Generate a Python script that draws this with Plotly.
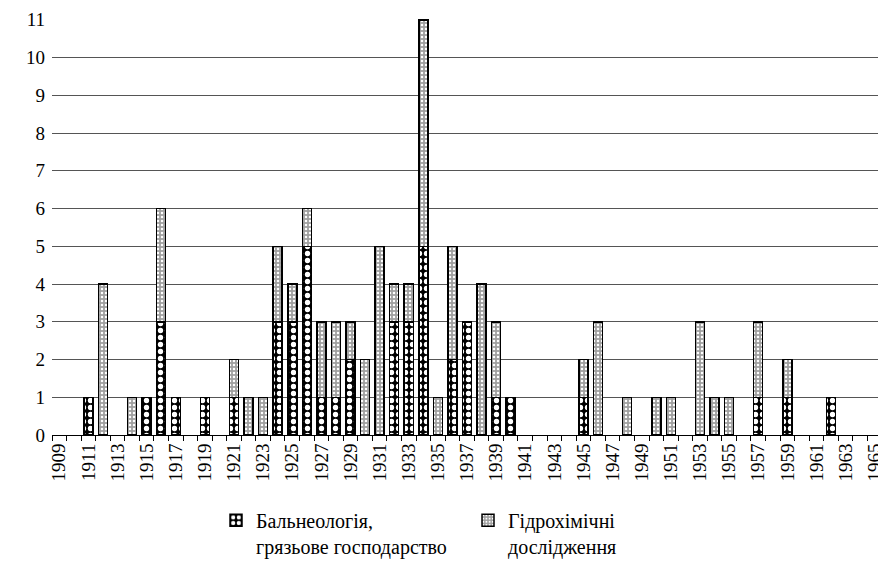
import plotly.graph_objects as go

# роки, у яких є публікації
years = [1911, 1912, 1914, 1915, 1916, 1917, 1919, 1921, 1922, 1923,
         1924, 1925, 1926, 1927, 1928, 1929, 1930, 1931, 1932, 1933,
         1934, 1935, 1936, 1937, 1938, 1939, 1940, 1945, 1946, 1948,
         1950, 1951, 1953, 1954, 1955, 1957, 1959, 1962]

# Бальнеологія, грязьове господарство
balneo = [1, None, None, 1, 3, 1, 1, 1, None, None,
          3, 3, 5, 1, 1, 2, None, None, 3, 3,
          5, None, 2, 3, None, 1, 1, 1, None, None,
          None, None, None, None, None, 1, 1, 1]

# Гідрохімічні дослідження
hydro = [None, 4, 1, None, 3, None, None, 1, 1, 1,
         2, 1, 1, 2, 2, 1, 2, 5, 1, 1,
         6, 1, 3, None, 4, 2, None, 1, 3, 1,
         1, 1, 3, 1, 1, 2, 1, None]

label_years = list(range(1909, 1966, 2))

serif = "Liberation Serif"

fig = go.Figure()

fig.add_trace(go.Bar(
    x=years, y=balneo,
    name="Бальнеологія,<br>грязьове господарство",
    marker=dict(
        color="black",
        line=dict(color="black", width=1.5),
        pattern=dict(shape=".", fgcolor="white", bgcolor="black",
                     size=7, solidity=0.45, fillmode="replace"),
    ),
))

fig.add_trace(go.Bar(
    x=years, y=hydro,
    name="Гідрохімічні<br>дослідження",
    marker=dict(
        color="#a0a0a0",
        line=dict(color="black", width=1.5),
        pattern=dict(shape=".", fgcolor="white", bgcolor="#a0a0a0",
                     size=4, solidity=0.3, fillmode="replace"),
    ),
))

# сторінка має відступ 8 px, тому фігура трохи менша за вікно
fig.update_layout(
    width=878, height=566,
    margin=dict(l=44, r=4, t=11, b=139, autoexpand=False),
    barmode="stack",
    bargap=0.38,
    plot_bgcolor="white",
    paper_bgcolor="white",
    font=dict(family=serif, size=18, color="black"),
    legend=dict(
        orientation="h",
        x=0.1976, xanchor="left",
        y=-0.158, yanchor="top",
        valign="top",
        entrywidth=207,
        font=dict(family=serif, size=20),
        traceorder="normal",
    ),
)

fig.update_xaxes(
    range=[1908.5, 1965.5],
    tickmode="array",
    tickvals=label_years,
    ticktext=[str(y) for y in label_years],
    tickangle=-90,
    ticks="",
    tickfont=dict(family=serif, size=19),
    showgrid=False,
    showline=True, linecolor="black", linewidth=1,
    minor=dict(tickmode="linear", tick0=1908.5, dtick=1,
               ticks="outside", ticklen=5, tickcolor="black", showgrid=False),
    zeroline=False,
    automargin=False,
)

fig.update_yaxes(
    range=[0, 11.02],
    dtick=1,
    tickfont=dict(family=serif, size=19),
    showgrid=True, gridcolor="#555555", gridwidth=1,
    showline=False,
    zeroline=False,
    ticks="",
    ticklabelstandoff=6,
    automargin=False,
)

fig.write_html("out.html")
